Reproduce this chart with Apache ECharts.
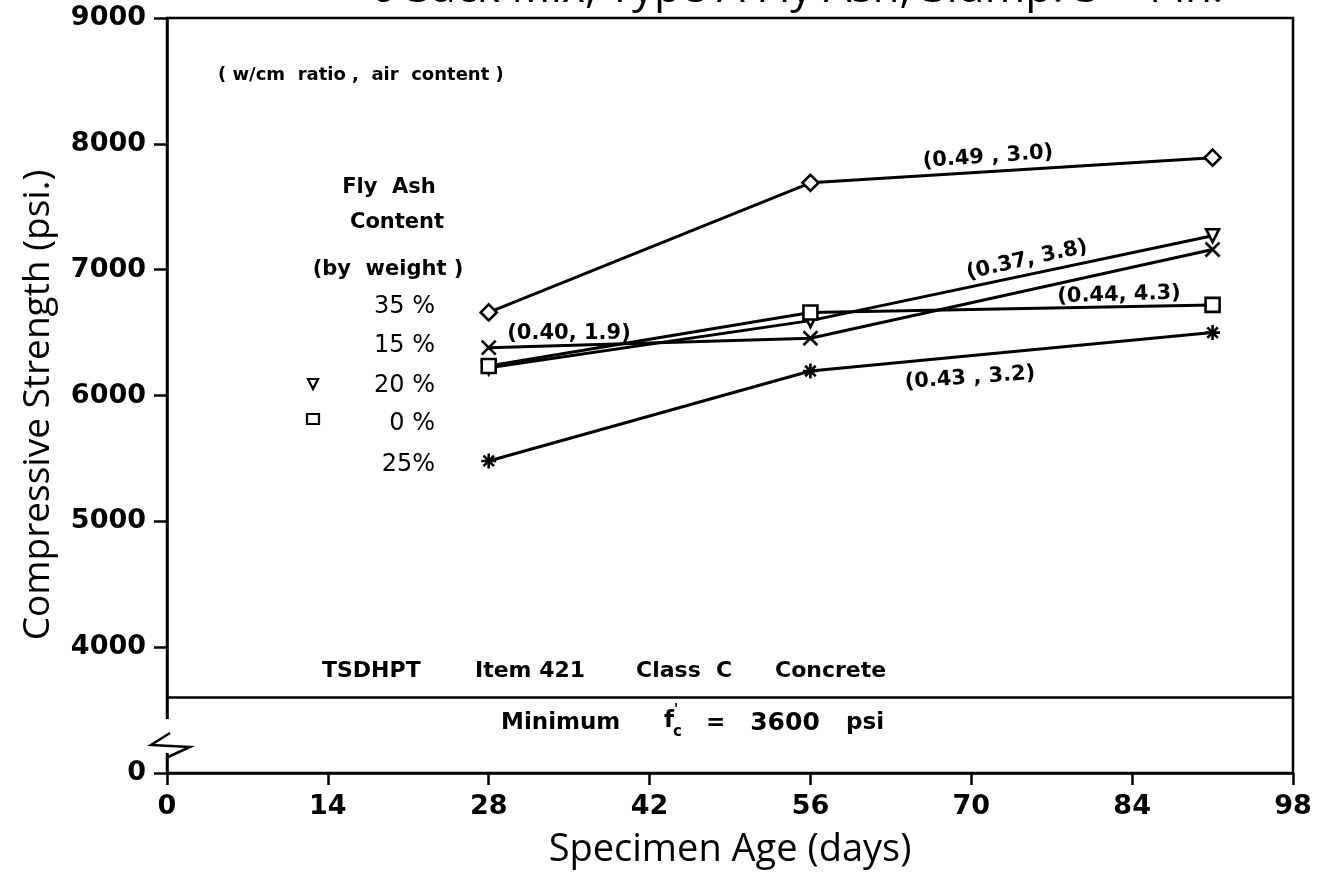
<!DOCTYPE html>
<html><head><meta charset="utf-8">
<script src="https://cdn.jsdelivr.net/npm/echarts@6/dist/echarts.min.js"></script>
<style>html,body{margin:0;padding:0;background:#fff}#c{width:1317px;height:878px}</style>
</head><body><div id="c"></div>
<script>
// ---- data ----
const days = [28, 56, 91];
const flyAsh35 = [6660, 7690, 7890];   // (0.49, 3.0)  diamond
const flyAsh15 = [6380, 6455, 7160];   // (0.40, 1.9)  x
const flyAsh20 = [6220, 6595, 7270];   // (0.37, 3.8)  triangle
const flyAsh0  = [6235, 6660, 6720];   // (0.44, 4.3)  square
const flyAsh25 = [5480, 6195, 6500];   // (0.43, 3.2)  asterisk
const minFc = 3600;
const xTicks = [0, 14, 28, 42, 56, 70, 84, 98];
const yTicks = [0, 4000, 5000, 6000, 7000, 8000, 9000];
const yBreakBase = 3000; // broken axis: '0' drawn at this position

const TFONT = 'Open Sans';
const AFONT = 'DejaVu Sans';
const mk = arr => days.map((d, i) => [d, arr[i]]);
const sym = {
  diamond: 'diamond',
  cross: 'path://M0,0L10,10M10,0L0,10',
  tri: 'path://M0,0L10,0L5,10Z',
  square: 'rect',
  star: 'path://M5,0L5,10M0,5L10,5M1.5,1.5L8.5,8.5M8.5,1.5L1.5,8.5'
};
function ser(name, arr, symbol, size, fill) {
  return {
    name, type: 'line', data: mk(arr), symbol, symbolSize: size,
    showAllSymbol: true,
    lineStyle: { color: '#000', width: 3 },
    itemStyle: { color: fill || '#fff', borderColor: '#000', borderWidth: 2.6 },
    z: 5
  };
}

const chart = echarts.init(document.getElementById('c'), null, { renderer: 'canvas' });
const txt = (x, y, text, size, weight, extra, rot, family) => ({
  type: 'text', x, y, z: 20, rotation: rot || 0,
  style: Object.assign({ text, font: `${weight} ${size}px "${family || AFONT}"`, fill: '#000', align: 'left', verticalAlign: 'middle' }, extra || {})
});
const C = { align: 'center' }, R = { align: 'right' };

chart.setOption({
  animation: false,
  backgroundColor: '#fff',
  grid: { left: 167, right: 24, top: 18, bottom: 105, show: true, borderColor: '#000', borderWidth: 2.5, backgroundColor: 'transparent' },
  xAxis: {
    type: 'value', min: 0, max: 98, interval: 14,
    name: 'Specimen Age (days)', nameLocation: 'middle', nameGap: 58,
    nameTextStyle: { fontFamily: TFONT, fontSize: 38, color: '#000' },
    axisLine: { lineStyle: { color: '#000', width: 2.5 } },
    axisTick: { show: true, length: 12, lineStyle: { color: '#000', width: 2.5 } },
    axisLabel: { fontFamily: AFONT, fontWeight: 'bold', fontSize: 27, color: '#000', margin: 20,
      formatter: v => xTicks.includes(v) ? String(v) : '' },
    splitLine: { show: false }
  },
  yAxis: {
    type: 'value', min: yBreakBase, max: 9000, interval: 1000,
    axisLine: { show: true, lineStyle: { color: '#000', width: 2.5 } },
    axisTick: { show: true, length: 13, lineStyle: { color: '#000', width: 2.5 } },
    axisLabel: { fontFamily: AFONT, fontWeight: 'bold', fontSize: 27, color: '#000', margin: 21,
      formatter: v => v === yBreakBase ? String(yTicks[0]) : (yTicks.includes(v) ? String(v) : '') },
    splitLine: { show: false }
  },
  series: [
    Object.assign(ser('35 %', flyAsh35, sym.diamond, 16), {
      markLine: { silent: true, symbol: ['none', 'none'], label: { show: false },
        lineStyle: { color: '#000', width: 2.5, type: 'solid' }, data: [{ yAxis: minFc }] }
    }),
    ser('15 %', flyAsh15, sym.cross, 14),
    ser('20 %', flyAsh20, sym.tri, 13),
    ser('0 %', flyAsh0, sym.square, 14),
    ser('25 %', flyAsh25, sym.star, 15, '#000')
  ],
  graphic: [
    // partially visible title at the top edge
    txt(797, -11, '6 Sack Mix, Type A Fly Ash, Slump: 3 - 4 in.', 44, 'normal', C, 0, TFONT),
    // y axis title
    txt(38, 405, 'Compressive Strength (psi.)', 37, 'normal', C, Math.PI / 2, TFONT),
    // axis break
    { type: 'rect', z: 15, shape: { x: 156, y: 719, width: 20, height: 34 }, style: { fill: '#fff' } },
    { type: 'polyline', z: 16, shape: { points: [[170, 733], [151, 745], [190, 747], [168, 757]] },
      style: { stroke: '#000', lineWidth: 2.5, fill: null } },
    // annotations
    txt(218, 75, '( w/cm  ratio ,  air  content )', 18, 'bold'),
    txt(389, 188, 'Fly  Ash', 21, 'bold', C),
    txt(397, 223, 'Content', 21, 'bold', C),
    txt(388, 270, '(by  weight )', 21, 'bold', C),
    txt(435, 307, '35 %', 24, 'normal', R),
    txt(435, 346, '15 %', 24, 'normal', R),
    txt(435, 386, '20 %', 24, 'normal', R),
    txt(435, 424, '0 %', 24, 'normal', R),
    txt(435, 465, '25%', 24, 'normal', R),
    { type: 'polygon', z: 20, shape: { points: [[308, 379], [318, 379], [313, 389]] }, style: { fill: '#fff', stroke: '#000', lineWidth: 2.2 } },
    { type: 'rect', z: 20, shape: { x: 307, y: 414, width: 12, height: 10 }, style: { fill: '#fff', stroke: '#000', lineWidth: 2.2 } },
    txt(988, 157, '(0.49 , 3.0)', 21, 'bold', C, 0.07),
    txt(1027, 260, '(0.37, 3.8)', 21, 'bold', C, 0.22),
    txt(1119, 295, '(0.44, 4.3)', 21, 'bold', C, 0.03),
    txt(970, 378, '(0.43 , 3.2)', 21, 'bold', C, 0.07),
    txt(569, 334, '(0.40, 1.9)', 21, 'bold', C),
    txt(322, 671, 'TSDHPT', 22, 'bold'),
    txt(475, 671, 'Item 421', 22, 'bold'),
    txt(636, 671, 'Class  C', 22, 'bold'),
    txt(775, 671, 'Concrete', 22, 'bold'),
    txt(501, 723, 'Minimum', 23, 'bold'),
    txt(664, 721, 'f', 23, 'bold'),
    txt(673, 732, 'c', 15, 'bold'),
    txt(674, 709, '\'', 14, 'bold'),
    txt(706, 723, '=', 23, 'bold'),
    txt(785, 723, '3600', 25, 'bold', C),
    txt(865, 723, 'psi', 23, 'bold', C)
  ]
});
</script></body></html>
